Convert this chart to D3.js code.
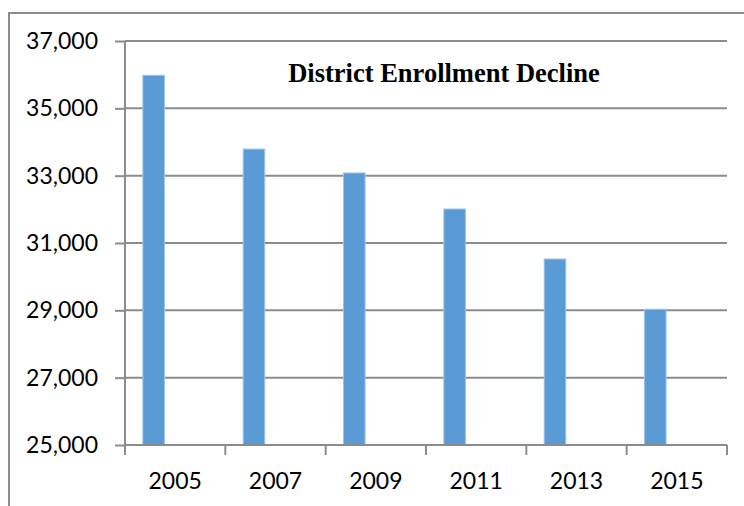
<!DOCTYPE html>
<html>
<head>
<meta charset="utf-8">
<script src="https://cdn.jsdelivr.net/npm/d3@7"></script>
<style>
  body { margin: 0; background: #fff; }
  .axis text { font-family: Lato, "Open Sans", sans-serif; font-size: 23px; fill: #000; }
</style>
</head>
<body>
<script>
// chart data
var years = ["2005", "2007", "2009", "2011", "2013", "2015"];
var enrollment = [35980, 33790, 33080, 32010, 30525, 29030];
var seriesSlots = ["Enrollment", "blank1", "blank2"];   // excel left 2 empty series slots
var yTicks = [25000, 27000, 29000, 31000, 33000, 35000, 37000];

var svg = d3.select("body").append("svg").attr("width", 744).attr("height", 506);

// outer chart border (cut off at right and bottom)
svg.append("rect")
    .attr("x", 9).attr("y", 13)
    .attr("width", 800).attr("height", 600)
    .attr("fill", "none")
    .attr("stroke", "#8c8c8c")
    .attr("stroke-width", 2);

var margin = {top: 41, left: 125, right: 17, bottom: 61};
var w = 744 - margin.left - margin.right;
var h = 506 - margin.top - margin.bottom;
var g = svg.append("g").attr("transform", "translate(" + margin.left + "," + margin.top + ")");

var xScale = d3.scaleBand().domain(years).range([0, w]).padding(0);
var slotScale = d3.scaleBand().domain(seriesSlots).range([0, xScale.bandwidth()])
    .paddingInner(0).paddingOuter(0.83);
var yScale = d3.scaleLinear().domain([25000, 37000]).range([h, 0]);

// gridlines
g.selectAll(".grid")
    .data(yTicks.slice(1))
    .enter().append("line")
    .attr("x1", 0).attr("x2", w)
    .attr("y1", function(d) { return yScale(d); })
    .attr("y2", function(d) { return yScale(d); })
    .attr("stroke", "#8c8c8c")
    .attr("stroke-width", 2);

// bars
g.selectAll(".bar")
    .data(enrollment)
    .enter().append("rect")
    .attr("class", "bar")
    .attr("x", function(d, i) { return xScale(years[i]) + slotScale("Enrollment"); })
    .attr("width", slotScale.bandwidth())
    .attr("y", function(d) { return yScale(d); })
    .attr("height", function(d) { return h - yScale(d); })
    .attr("fill", "#5b9bd5")
    .attr("stroke", "#9dc3e6")
    .attr("stroke-width", 1);

// y axis
var yAxis = g.append("g")
    .attr("class", "axis")
    .call(d3.axisLeft(yScale).tickValues(yTicks).tickFormat(d3.format(",")).tickSize(10).tickPadding(17));
yAxis.select(".domain").attr("stroke", "#8c8c8c").attr("stroke-width", 2).attr("d", "M0,0V" + h);
yAxis.selectAll(".tick line").attr("stroke", "#8c8c8c").attr("stroke-width", 2);

// x axis, ticks sit on band boundaries
var xAxis = g.append("g")
    .attr("class", "axis")
    .attr("transform", "translate(0," + h + ")")
    .call(d3.axisBottom(xScale).tickSize(0).tickPadding(28));
xAxis.select(".domain").attr("stroke", "#8c8c8c").attr("stroke-width", 2).attr("d", "M0,0H" + w);

g.selectAll(".xtick")
    .data(years.concat(["end"]))
    .enter().append("line")
    .attr("x1", function(d, i) { return i * xScale.step(); })
    .attr("x2", function(d, i) { return i * xScale.step(); })
    .attr("y1", h).attr("y2", h + 10)
    .attr("stroke", "#8c8c8c")
    .attr("stroke-width", 2);

// title
svg.append("text")
    .attr("x", 444).attr("y", 82)
    .attr("text-anchor", "middle")
    .style("font-family", "'Liberation Serif', 'Times New Roman', serif")
    .style("font-weight", "bold")
    .style("font-size", "26.5px")
    .text("District Enrollment Decline");
</script>
</body>
</html>
